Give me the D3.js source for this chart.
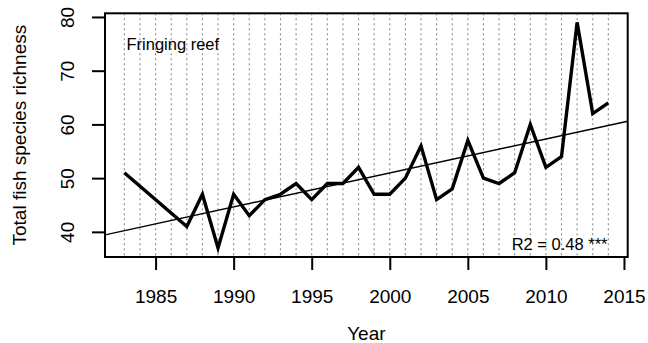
<!DOCTYPE html>
<html>
<head>
<meta charset="utf-8">
<script src="https://cdn.jsdelivr.net/npm/d3@7"></script>
<style>
  html, body { margin: 0; padding: 0; background: #fff; }
  text { font-family: "Liberation Sans", Arial, sans-serif; fill: #000; }
</style>
</head>
<body>
<svg id="chart" width="648" height="343"></svg>
<script>
// Annual total fish species richness on the fringing reef
const years = [1983, 1987, 1988, 1989, 1990, 1991, 1992, 1993, 1994, 1995,
               1996, 1997, 1998, 1999, 2000, 2001, 2002, 2003, 2004, 2005,
               2006, 2007, 2008, 2009, 2010, 2011, 2012, 2013, 2014];
const richness = [51, 41, 47, 37, 47, 43, 46, 47, 49, 46,
                  49, 49, 52, 47, 47, 50, 56, 46, 48, 57,
                  50, 49, 51, 60, 52, 54, 79, 62, 64];
const gridYears = d3.range(1983, 2015);
const xTicks = [1985, 1990, 1995, 2000, 2005, 2010, 2015];
const yTicks = [40, 50, 60, 70, 80];
const siteLabel = "Fringing reef";
const fitLabel = "R2 = 0.48 ***";

const svg = d3.select("#chart");
const box = { left: 105, right: 627.7, top: 13.3, bottom: 257 };

// axis ranges padded 4% beyond the data extent
const pad = (lo, hi) => [lo - (hi - lo) * 0.04, hi + (hi - lo) * 0.04];
const x = d3.scaleLinear().domain(pad(1983, 2014)).range([box.left, box.right]);
const y = d3.scaleLinear().domain(pad(37, 79)).range([box.bottom, box.top]);

// dotted vertical grid, one per year
svg.append("g").selectAll("line").data(gridYears).join("line")
  .attr("x1", d => x(d)).attr("x2", d => x(d))
  .attr("y1", box.top).attr("y2", box.bottom)
  .attr("stroke", "#8a8a8a").attr("stroke-width", 1.1)
  .attr("stroke-dasharray", "2,3");

// least-squares trend line
const mx = d3.mean(years), my = d3.mean(richness);
const sxy = d3.sum(years, (t, i) => (t - mx) * (richness[i] - my));
const sxx = d3.sum(years, t => (t - mx) ** 2);
const slope = sxy / sxx, intercept = my - slope * mx;
const [x0, x1] = x.domain();

svg.append("clipPath").attr("id", "plotclip").append("rect")
  .attr("x", box.left).attr("y", box.top)
  .attr("width", box.right - box.left).attr("height", box.bottom - box.top);

svg.append("line")
  .attr("clip-path", "url(#plotclip)")
  .attr("x1", x(x0)).attr("y1", y(intercept + slope * x0))
  .attr("x2", x(x1)).attr("y2", y(intercept + slope * x1))
  .attr("stroke", "#000").attr("stroke-width", 1.4);

// richness time series
svg.append("path")
  .datum(years.map((t, i) => [t, richness[i]]))
  .attr("fill", "none").attr("stroke", "#000")
  .attr("stroke-width", 3.4).attr("stroke-linejoin", "miter")
  .attr("d", d3.line().x(d => x(d[0])).y(d => y(d[1])));

// plot frame
svg.append("rect")
  .attr("x", box.left).attr("y", box.top)
  .attr("width", box.right - box.left).attr("height", box.bottom - box.top)
  .attr("fill", "none").attr("stroke", "#000").attr("stroke-width", 2);

// x axis
const xAxis = svg.append("g")
  .attr("transform", `translate(0,${box.bottom})`)
  .call(d3.axisBottom(x).tickValues(xTicks).tickFormat(d3.format("d"))
        .tickSize(13).tickSizeOuter(0));
xAxis.select(".domain").remove();
xAxis.selectAll(".tick line").attr("stroke", "#000").attr("stroke-width", 2);
xAxis.selectAll(".tick text").attr("font-size", 19)
  .attr("font-family", "Liberation Sans, Arial, sans-serif")
  .attr("y", 0).attr("dy", 0)
  .attr("transform", "translate(0,45.7)");

// y axis with labels rotated parallel to the axis
const yAxis = svg.append("g")
  .attr("transform", `translate(${box.left},0)`)
  .call(d3.axisLeft(y).tickValues(yTicks).tickFormat(d3.format("d"))
        .tickSize(13).tickSizeOuter(0));
yAxis.select(".domain").remove();
yAxis.selectAll(".tick line").attr("stroke", "#000").attr("stroke-width", 2);
yAxis.selectAll(".tick text").attr("font-size", 19)
  .attr("font-family", "Liberation Sans, Arial, sans-serif")
  .attr("x", 0).attr("dy", 0)
  .attr("text-anchor", "middle")
  .attr("transform", "translate(-31,0) rotate(-90)");

// axis titles
svg.append("text")
  .attr("x", (box.left + box.right) / 2).attr("y", 340)
  .attr("text-anchor", "middle").attr("font-size", 19)
  .text("Year");
svg.append("text")
  .attr("transform", `translate(25.6,${(box.top + box.bottom) / 2}) rotate(-90)`)
  .attr("text-anchor", "middle").attr("font-size", 19)
  .text("Total fish species richness");

// annotations
svg.append("text")
  .attr("x", 126.5).attr("y", 50)
  .attr("font-size", 16.5)
  .text(siteLabel);
svg.append("text")
  .attr("x", 607.5).attr("y", 250)
  .attr("text-anchor", "end").attr("font-size", 16.5)
  .text(fitLabel);
</script>
</body>
</html>
